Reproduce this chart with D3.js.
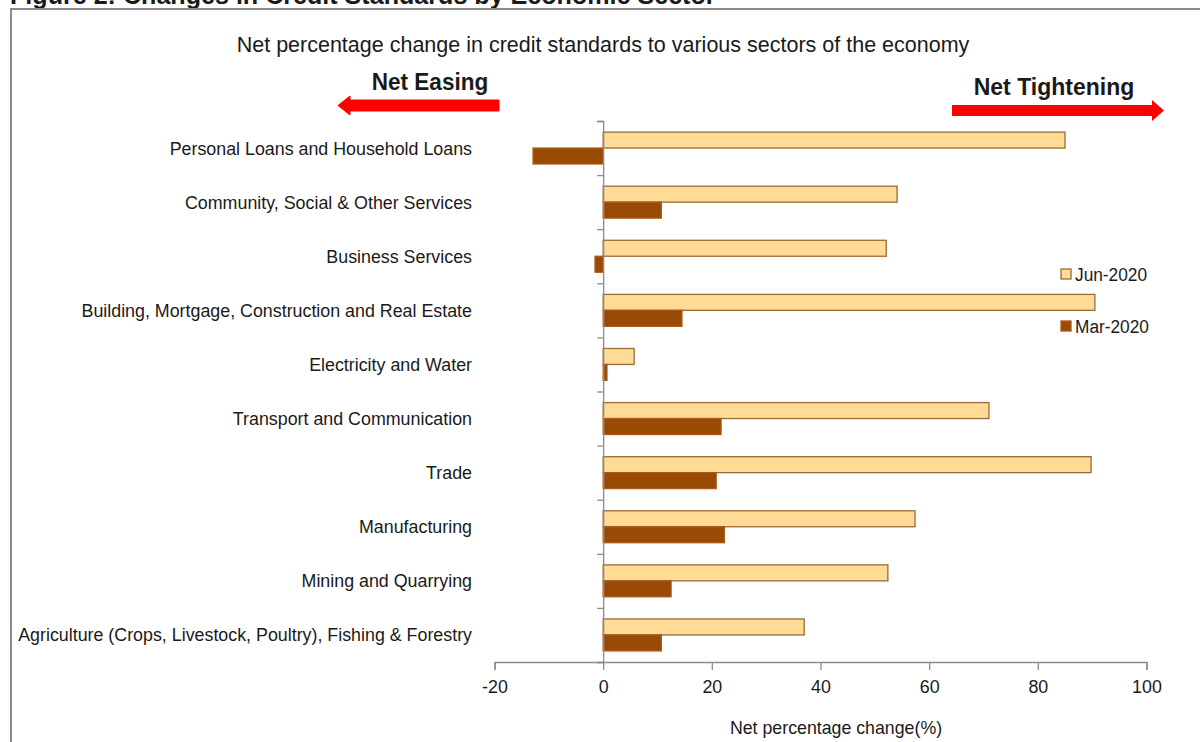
<!DOCTYPE html>
<html>
<head>
<meta charset="utf-8">
<script src="https://cdn.jsdelivr.net/npm/d3@7"></script>
<style>
  html, body { margin: 0; padding: 0; background: #fff; }
  svg { display: block; }
  text { font-family: "Liberation Sans", Arial, sans-serif; fill: #1a1a1a; }
</style>
</head>
<body>
<svg id="chart" width="1200" height="742"></svg>
<script>
const categories = [
  "Personal Loans and Household Loans",
  "Community, Social & Other Services",
  "Business Services",
  "Building, Mortgage, Construction and Real Estate",
  "Electricity and Water",
  "Transport and Communication",
  "Trade",
  "Manufacturing",
  "Mining and Quarrying",
  "Agriculture (Crops, Livestock, Poultry), Fishing & Forestry"
];
const seriesNames = ["Jun-2020", "Mar-2020"];
const jun2020 = [85.0, 54.1, 52.1, 90.5, 5.7, 71.0, 89.8, 57.4, 52.4, 37.0];
const mar2020 = [-12.9, 10.7, -1.5, 14.5, 0.7, 21.7, 20.8, 22.3, 12.5, 10.7];
const xTicks = [-20, 0, 20, 40, 60, 80, 100];

const headerText = "Figure 2: Changes in Credit Standards by Economic Sector";
const titleText = "Net percentage change in credit standards to various sectors of the economy";
const xAxisTitle = "Net percentage change(%)";
const easingText = "Net Easing";
const tighteningText = "Net Tightening";

const colors = {
  "Jun-2020": { fill: "#FFDB96", stroke: "#9A6A38" },
  "Mar-2020": { fill: "#994A05", stroke: "#A85A18" }
};

const svg = d3.select("#chart");

// place a horizontally condensed text at (x,y)
function narrowText(parent, x, y, str, size, anchor, ratio, bold) {
  const t = parent.append("text")
    .attr("transform", `translate(${x},${y}) scale(${ratio},1)`)
    .attr("text-anchor", anchor)
    .style("font-size", size + "px")
    .text(str);
  if (bold) t.style("font-weight", "bold");
  return t;
}

// Header (cut off at top) and frame
svg.append("text")
  .attr("x", 10).attr("y", 4)
  .style("font-weight", "bold").style("font-size", "25.1px")
  .text(headerText);
svg.append("rect")
  .attr("x", 11).attr("y", 9).attr("width", 1200).attr("height", 800)
  .attr("fill", "none").attr("stroke", "#8a8a8a").attr("stroke-width", 2);

const x = d3.scaleLinear().domain([-20, 100]).range([494.5, 1146.5]);
const yEdge = d3.scaleLinear().domain([0, categories.length]).range([121, 662]);
const y = d3.scaleBand().domain(categories).range([121, 662]).paddingInner(0.41).paddingOuter(0.205);
const yInner = d3.scaleBand().domain(seriesNames).range([0, y.bandwidth()]);

// Title
narrowText(svg, 603, 52, titleText, 21.5, "middle", 1.0, false);

// Bars
const data = categories.map((c, i) => ({ cat: c, values: [
  { s: "Jun-2020", v: jun2020[i] }, { s: "Mar-2020", v: mar2020[i] } ] }));

const groups = svg.append("g").selectAll("g").data(data).join("g")
  .attr("transform", d => `translate(0,${y(d.cat)})`);
groups.selectAll("rect").data(d => d.values).join("rect")
  .attr("x", d => x(Math.min(0, d.v)))
  .attr("width", d => Math.abs(x(d.v) - x(0)))
  .attr("y", d => yInner(d.s))
  .attr("height", yInner.bandwidth())
  .attr("fill", d => colors[d.s].fill)
  .attr("stroke", d => colors[d.s].stroke)
  .attr("stroke-width", 1.3);

// Y axis (category boundary ticks)
const yAxis = svg.append("g").attr("transform", `translate(${x(0)},0)`)
  .call(d3.axisLeft(yEdge).tickValues(d3.range(0, categories.length + 1)).tickFormat("").tickSize(6).tickSizeOuter(6));
yAxis.selectAll("path, line").attr("stroke", "#8c8c8c").attr("stroke-width", 1.3);

// Category labels
const labG = svg.append("g");
categories.forEach(c => {
  narrowText(labG, 472, y(c) + y.bandwidth() / 2 + 6.5, c, 18.5, "end", 0.965, false);
});

// X axis
const xAxis = svg.append("g").attr("transform", `translate(0,662)`)
  .call(d3.axisBottom(x).tickValues(xTicks).tickSize(8).tickSizeOuter(8).tickPadding(10).tickFormat(d => String(d)));
xAxis.selectAll("path, line").attr("stroke", "#8c8c8c").attr("stroke-width", 1.3);
xAxis.selectAll("text")
  .style("font-size", "19px").style("font-family", null).attr("fill", "#1a1a1a")
  .attr("transform", "scale(0.94,1)");

narrowText(svg, 836, 734, xAxisTitle, 18.5, "middle", 0.96, false);

// Legend
const legend = svg.append("g").selectAll("g").data(seriesNames).join("g")
  .attr("transform", (d, i) => `translate(1061,${269 + i * 52})`);
legend.append("rect").attr("width", 10).attr("height", 10)
  .attr("fill", d => colors[d].fill).attr("stroke", d => colors[d].stroke).attr("stroke-width", 1.3);
legend.each(function(d) {
  narrowText(d3.select(this), 14, 11.5, d, 18, "start", 0.96, false);
});

// Easing / Tightening annotations with arrows
narrowText(svg, 430, 90, easingText, 23, "middle", 0.98, true);
svg.append("path")
  .attr("d", "M499,100 L350,100 L350,96 L338,105.5 L350,115 L350,111 L499,111 Z")
  .attr("fill", "#ff0000").attr("stroke", "#ff0000").attr("stroke-width", 1).attr("stroke-linejoin", "round");

narrowText(svg, 1054, 95, tighteningText, 23, "middle", 1.0, true);
svg.append("path")
  .attr("d", "M952,105 L1152,105 L1152,100 L1164,110.5 L1152,121 L1152,116 L952,116 Z")
  .attr("fill", "#ff0000");
</script>
</body>
</html>
